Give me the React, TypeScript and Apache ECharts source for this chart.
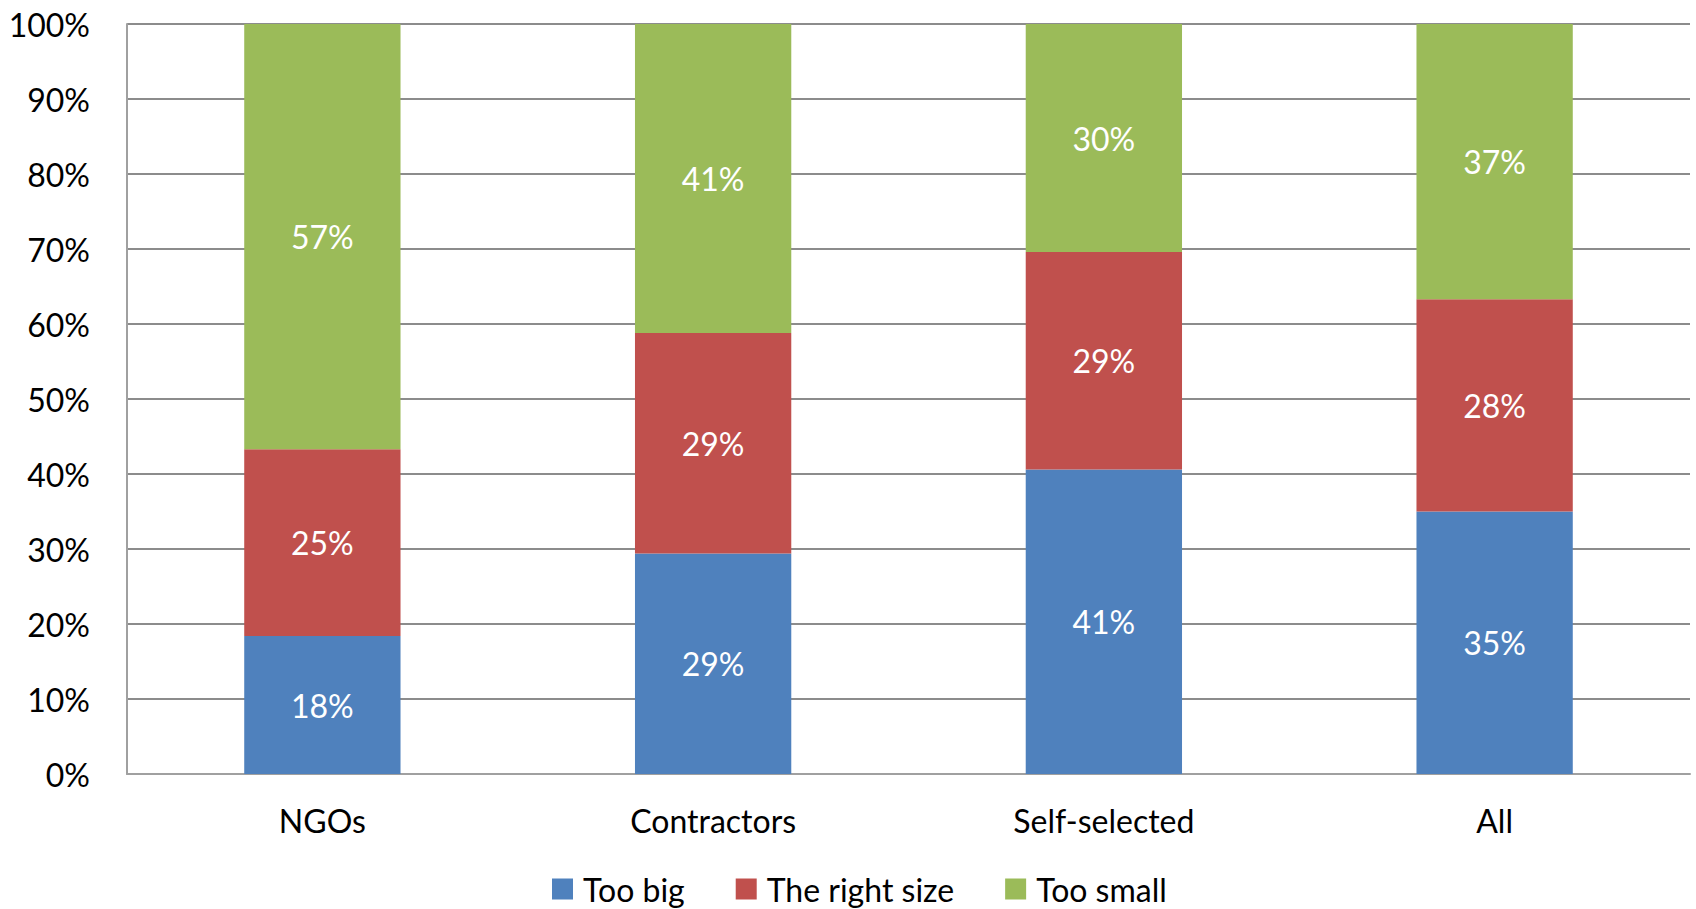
import React, { useEffect, useRef } from "react";
import * as echarts from "echarts";

const categories = ["NGOs", "Contractors", "Self-selected", "All"];
const tooBig = [18.4, 29.4, 40.6, 35.0];
const rightSize = [24.9, 29.4, 29.0, 28.3];
const tooSmall = [56.7, 41.2, 30.4, 36.7];
const seriesNames = ["Too big", "The right size", "Too small"];
const colors = ["#4F81BD", "#C0504D", "#9BBB59"];

const FONT = "Lato, 'Open Sans', sans-serif";

export default function App() {
  const ref = useRef<HTMLDivElement>(null);
  useEffect(() => {
    if (!ref.current) return;
    const chart = echarts.init(ref.current, undefined, { renderer: "svg" });
    const data = [tooBig, rightSize, tooSmall];
    chart.setOption({
      animation: false,
      grid: { left: 127, right: 6, top: 24, bottom: 135, containLabel: false },
      legend: {
        left: 547,
        top: 868,
        itemWidth: 21,
        itemHeight: 21,
        itemGap: 51,
        icon: "rect",
        textStyle: { fontFamily: FONT, fontSize: 32, color: "#000", padding: [0, 0, 0, 5] },
        data: seriesNames,
      },
      xAxis: {
        type: "category",
        data: categories,
        axisLine: { lineStyle: { color: "#a0a0a0", width: 2 } },
        axisTick: { show: false },
        axisLabel: { fontFamily: FONT, fontSize: 32, color: "#000", margin: 30 },
      },
      yAxis: {
        type: "value",
        min: 0,
        max: 100,
        interval: 10,
        axisLine: { show: true, lineStyle: { color: "#a0a0a0", width: 2 } },
        axisTick: { show: false },
        splitLine: { lineStyle: { color: "#8c8c8c", width: 2 } },
        axisLabel: {
          fontFamily: FONT,
          fontSize: 32,
          color: "#000",
          margin: 37,
          formatter: (v: number) => `${v}%`,
        },
      },
      series: seriesNames.map((name, i) => ({
        name,
        type: "bar",
        stack: "total",
        barWidth: "40%",
        data: data[i],
        itemStyle: { color: colors[i] },
        label: {
          show: true,
          position: "inside",
          color: "#fff",
          fontFamily: FONT,
          fontSize: 32,
          formatter: (p: any) => `${Math.round(p.value)}%`,
        },
      })),
    });
    return () => chart.dispose();
  }, []);
  return (
    <div
      ref={ref}
      style={{ position: "fixed", left: 0, top: 0, width: 1696, height: 909, background: "#fff" }}
    />
  );
}
